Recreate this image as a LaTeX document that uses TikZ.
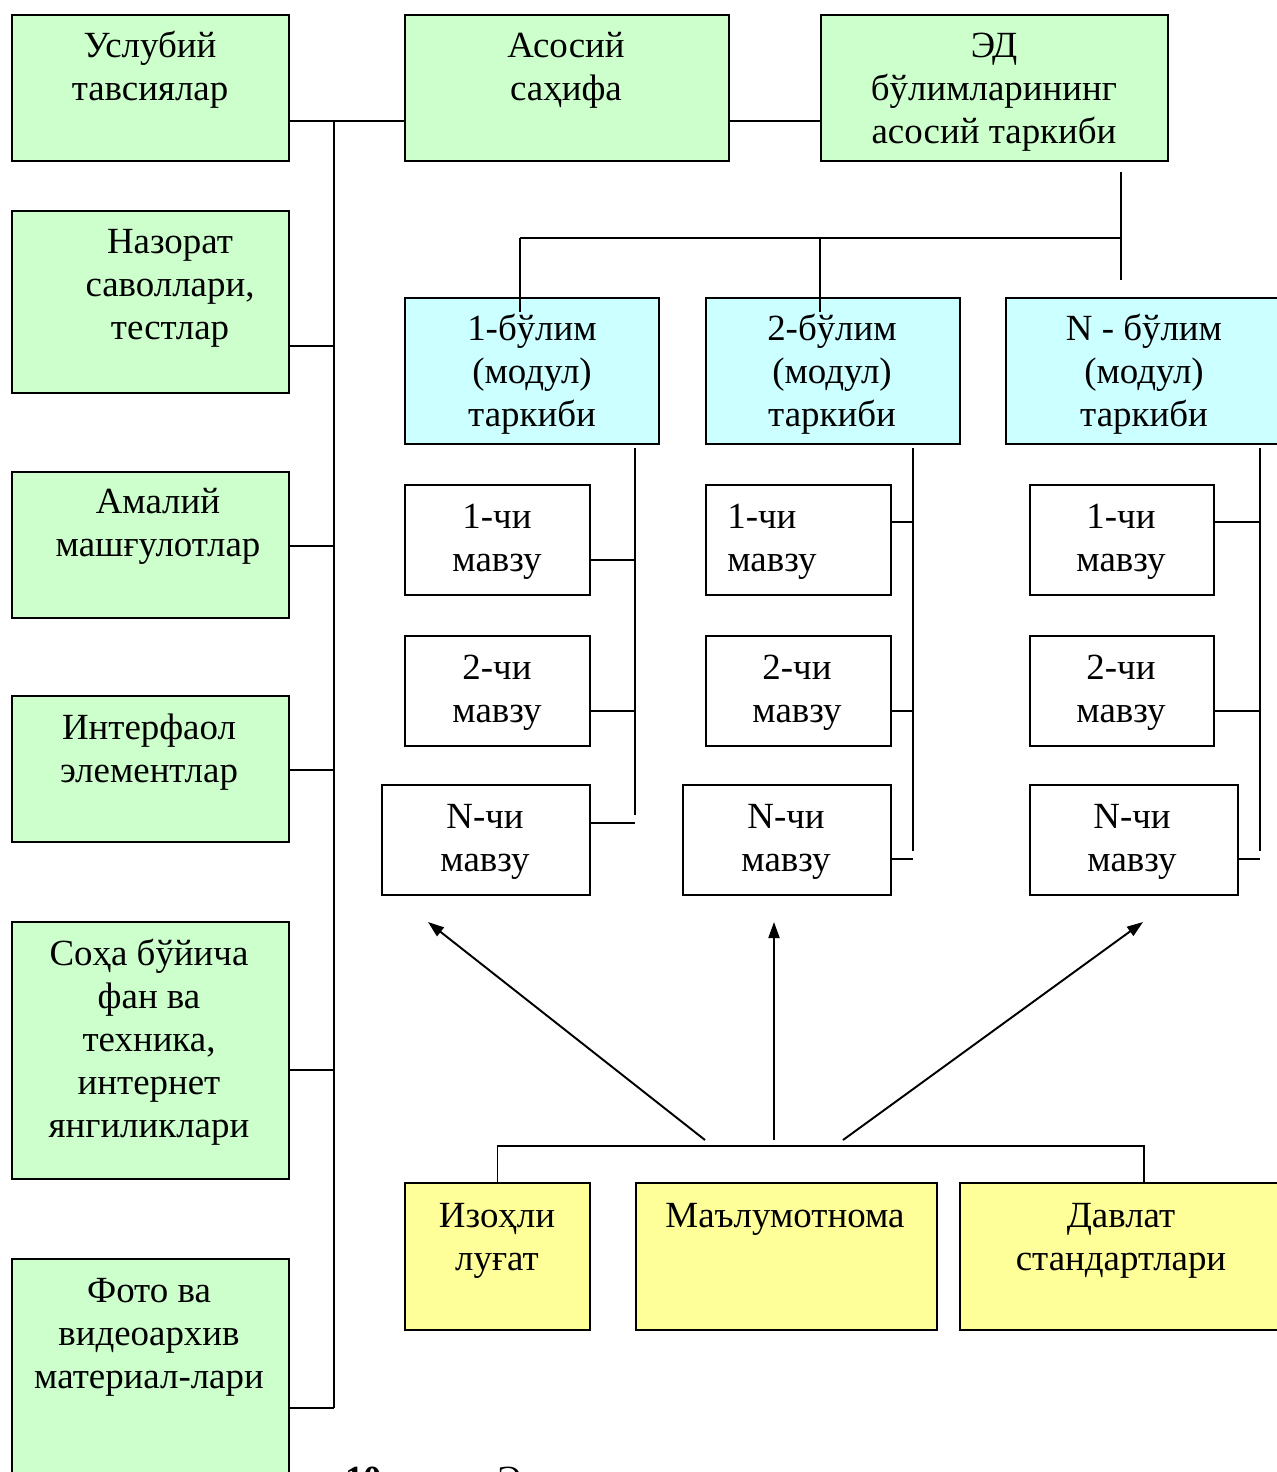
\documentclass[tikz,border=0pt]{standalone}
\usepackage{fontspec}
\setmainfont{Liberation Serif}
\usetikzlibrary{arrows.meta}
\definecolor{boxgreen}{HTML}{CCFFCC}
\definecolor{boxcyan}{HTML}{CCFFFF}
\definecolor{boxyellow}{HTML}{FFFF99}
\tikzset{
  basebox/.style={draw, line width=1.1pt, inner sep=0pt, anchor=north west},
  gbox/.style={basebox, fill=boxgreen},
  cbox/.style={basebox, fill=boxcyan},
  wbox/.style={basebox, fill=white},
  ybox/.style={basebox, fill=boxyellow},
  txt/.style={inner sep=0pt, align=center, anchor=north, font=\fontsize{21}{24.45}\selectfont},
  conn/.style={line width=1.1pt},
  arr/.style={line width=1.1pt, -{Triangle[length=0.32cm,width=0.22cm]}}
}
\newcommand\mkbox[6]{\node[#2, minimum width={(#5-#3)*0.02cm}, minimum height={(#6-#4)*0.02cm}] (#1) at (#3,#4) {};}
\newcommand\mktxt[4]{\node[txt] (#1) at (#2,#3) {\strut #4};}
\begin{document}
\begin{tikzpicture}[x=0.02cm,y=-0.02cm]
\useasboundingbox (0,0) rectangle (1277,1472);
\clip (0,0) rectangle (1277,1472);
% left column
\mkbox{usl}{gbox}{11}{14}{288}{160}
\mkbox{naz}{gbox}{11}{210}{288}{392}
\mkbox{aml}{gbox}{11}{471}{288}{617}
\mkbox{int}{gbox}{11}{695}{288}{841}
\mkbox{soh}{gbox}{11}{921}{288}{1178}
\mkbox{fot}{gbox}{11}{1258}{288}{1500}
% top
\mkbox{asos}{gbox}{404}{14}{728}{160}
\mkbox{ed}{gbox}{820}{14}{1167}{160}
% sections
\mkbox{b1}{cbox}{404}{297}{658}{443}
\mkbox{b2}{cbox}{705}{297}{959}{443}
\mkbox{b3}{cbox}{1005}{297}{1283}{443}
% topics
\mkbox{m11}{wbox}{404}{484}{589}{594}
\mkbox{m12}{wbox}{404}{635}{589}{745}
\mkbox{m13}{wbox}{381}{784}{589}{894}
\mkbox{m21}{wbox}{705}{484}{890}{594}
\mkbox{m22}{wbox}{705}{635}{890}{745}
\mkbox{m23}{wbox}{682}{784}{890}{894}
\mkbox{m31}{wbox}{1029}{484}{1213}{594}
\mkbox{m32}{wbox}{1029}{635}{1213}{745}
\mkbox{m33}{wbox}{1029}{784}{1237}{894}
% bottom
\mkbox{izo}{ybox}{404}{1182}{589}{1329}
\mkbox{mal}{ybox}{635}{1182}{936}{1329}
\mkbox{dav}{ybox}{959}{1182}{1283}{1329}

% texts
\mktxt{usl-t}{150}{27}{Услубий\\тавсиялар}
\mktxt{naz-t}{170}{223}{Назорат\\саволлари,\\тестлар}
\mktxt{aml-t}{158}{483}{Амалий\\машғулотлар}
\mktxt{int-t}{149}{709}{Интерфаол\\элементлар}
\mktxt{soh-t}{149}{935}{Соҳа бўйича\\фан ва\\техника,\\интернет\\янгиликлари}
\mktxt{fot-t}{149}{1272}{Фото ва\\видеоархив\\материал-лари}
\mktxt{asos-t}{566}{27}{Асосий\\саҳифа}
\mktxt{ed-t}{994}{27}{ЭД\\бўлимларининг\\асосий таркиби}
\mktxt{b1-t}{532}{310}{1-бўлим\\(модул)\\таркиби}
\mktxt{b2-t}{832}{310}{2-бўлим\\(модул)\\таркиби}
\mktxt{b3-t}{1144}{310}{N - бўлим\\(модул)\\таркиби}
\mktxt{m11-t}{497}{498}{1-чи\\мавзу}
\mktxt{m12-t}{497}{649}{2-чи\\мавзу}
\mktxt{m13-t}{485}{798}{N-чи\\мавзу}
\node[txt, align=left, anchor=north west] (m21-t) at (727,498) {\strut 1-чи\\мавзу};
\mktxt{m22-t}{797}{649}{2-чи\\мавзу}
\mktxt{m23-t}{786}{798}{N-чи\\мавзу}
\mktxt{m31-t}{1121}{498}{1-чи\\мавзу}
\mktxt{m32-t}{1121}{649}{2-чи\\мавзу}
\mktxt{m33-t}{1132}{798}{N-чи\\мавзу}
\mktxt{izo-t}{497}{1197}{Изоҳли\\луғат}
\mktxt{mal-t}{785}{1197}{Маълумотнома}
\mktxt{dav-t}{1121}{1197}{Давлат\\стандартлари}

% caption (cut off at the bottom, as in the reference)
\node[inner sep=0pt, anchor=base west, font=\fontsize{21}{24.45}\selectfont] (cap1) at (345,1491) {\textbf{10}};
\node[inner sep=0pt, anchor=base west, font=\fontsize{21}{24.45}\selectfont] (cap2) at (497,1491) {Э};

% left trunk
\coordinate (j1) at (334,121);
\coordinate (jn) at (334,346);
\coordinate (ja) at (334,546);
\coordinate (ji) at (334,770);
\coordinate (js) at (334,1070);
\coordinate (jf) at (334,1408);
\draw[conn] (usl.east |- j1) -- (asos.west |- j1);
\draw[conn] (asos.east |- j1) -- (ed.west |- j1);
\draw[conn] (j1) -- (jf);
\draw[conn] (naz.east |- jn) -- (jn);
\draw[conn] (aml.east |- ja) -- (ja);
\draw[conn] (int.east |- ji) -- (ji);
\draw[conn] (soh.east |- js) -- (js);
\draw[conn] (fot.east |- jf) -- (jf);

% ED to sections
\coordinate (edA) at (1121,172);
\coordinate (edB) at (1121,280);
\coordinate (h1) at (520,238);
\coordinate (h2) at (820,238);
\coordinate (h3) at (1121,238);
\coordinate (h1e) at (520,312);
\coordinate (h2e) at (820,312);
\draw[conn] (edA) -- (edB);
\draw[conn] (h1) -- (h3);
\draw[conn] (h1) -- (h1e);
\draw[conn] (h2) -- (h2e);

% column 1 bus
\coordinate (c1a) at (635,448);
\coordinate (c1b) at (635,815);
\draw[conn] (c1a) -- (c1b);
\draw[conn] ([yshift=-1.52cm]m11.north east) -- ([yshift=-1.52cm]m11.north east -| c1a);
\draw[conn] ([yshift=-1.52cm]m12.north east) -- ([yshift=-1.52cm]m12.north east -| c1a);
\draw[conn] ([yshift=-0.78cm]m13.north east) -- ([yshift=-0.78cm]m13.north east -| c1a);

% column 2 bus
\coordinate (c2a) at (913,448);
\coordinate (c2b) at (913,851);
\draw[conn] (c2a) -- (c2b);
\draw[conn] ([yshift=-0.76cm]m21.north east) -- ([yshift=-0.76cm]m21.north east -| c2a);
\draw[conn] ([yshift=-1.52cm]m22.north east) -- ([yshift=-1.52cm]m22.north east -| c2a);
\draw[conn] ([yshift=-1.5cm]m23.north east) -- ([yshift=-1.5cm]m23.north east -| c2a);

% column 3 bus
\coordinate (c3a) at (1260,448);
\coordinate (c3b) at (1260,851);
\draw[conn] (c3a) -- (c3b);
\draw[conn] ([yshift=-0.76cm]m31.north east) -- ([yshift=-0.76cm]m31.north east -| c3a);
\draw[conn] ([yshift=-1.52cm]m32.north east) -- ([yshift=-1.52cm]m32.north east -| c3a);
\draw[conn] ([yshift=-1.5cm]m33.north east) -- ([yshift=-1.5cm]m33.north east -| c3a);

% bottom bracket and arrows
\coordinate (bk1) at (497,1146);
\coordinate (bk2) at (1144,1146);
\coordinate (bk2e) at (1144,1182);
\draw[conn] (izo.north) -- (izo.north |- bk1) -- (bk2) -- (bk2e);
\coordinate (a1s) at (705,1140);
\coordinate (a2s) at (774,1140);
\coordinate (a3s) at (843,1140);
\coordinate (a1e) at (428,922);
\coordinate (a2e) at (774,922);
\coordinate (a3e) at (1143,922);
\draw[arr] (a1s) -- (a1e);
\draw[arr] (a2s) -- (a2e);
\draw[arr] (a3s) -- (a3e);
\end{tikzpicture}
\end{document}
